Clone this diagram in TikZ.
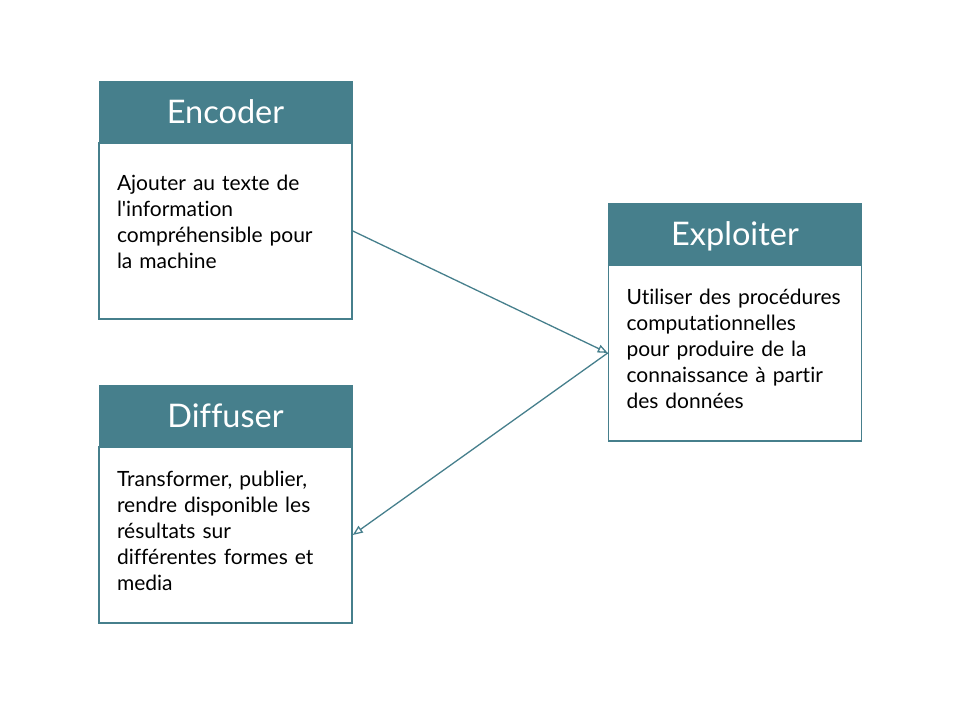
\documentclass[tikz,border=0pt]{standalone}
\usepackage{fontspec}
\setmainfont{Lato}[Ligatures={TeX,NoCommon}]
\usetikzlibrary{positioning,arrows.meta}
\definecolor{boxteal}{RGB}{70,127,140}
\tikzset{
  boxhead/.style={fill=boxteal, draw=boxteal, text=white, minimum width=253pt,
    minimum height=61pt, inner sep=0pt, text height=27pt, text depth=4pt,
    font=\fontsize{32.5}{38}\selectfont},
  boxbody/.style={draw=boxteal, line width=1.5pt, fill=white, minimum width=253pt,
    minimum height=176pt},
  boxtext/.style={inner sep=0pt, text width=217pt, align=left,
    font=\fontsize{21}{26}\selectfont},
  flow/.style={draw=boxteal, line width=1.3pt, -{Triangle[open,length=10pt,width=8pt]}}
}
\newcommand\taskbox[6]{%
  \node[boxhead] (#1head) at (#2,#3) {#4};
  \node[boxbody, below=0pt of #1head] (#1) {};
  \node[boxtext, yshift=#6] (#1text) at (#1) {#5};
}

\begin{document}
\begin{tikzpicture}[x=1pt,y=-1pt]
        \useasboundingbox (0,0) rectangle (960,720);
        % The three steps
        \taskbox{enc}{225.5}{111.5}{Encoder}{Ajouter au texte de\\
          l\textquotesingle information\\
          compréhensible pour\\
          la machine}{9pt}
        \taskbox{expl}{735}{233.5}{Exploiter}{Utiliser des procédures\\
          computationnelles\\
          pour produire de la\\
          connaissance à partir\\
          des données}{4pt}
        \taskbox{dif}{225.5}{415.5}{Diffuser}{Transformer, publier,\\
          rendre disponible les\\
          résultats sur\\
          différentes formes et\\
          media}{4pt}
        % Arrows
        \draw[flow] (enc.east) -- (expl.west);
        \draw[flow] (expl.west) -- (dif.east);
\end{tikzpicture}
\end{document}
